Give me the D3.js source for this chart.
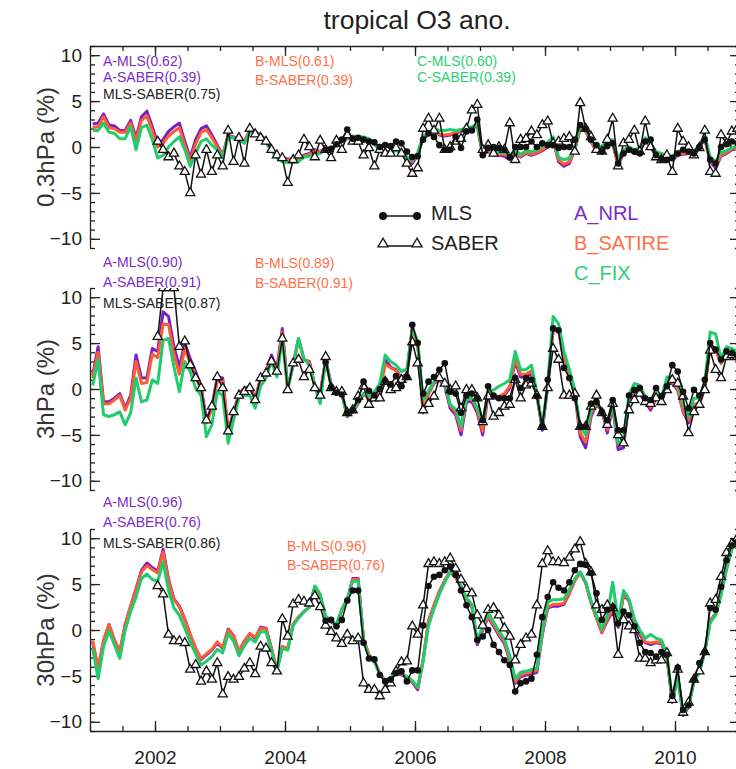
<!DOCTYPE html>
<html>
<head>
<meta charset="utf-8">
<script src="https://cdn.jsdelivr.net/npm/d3@7"></script>
<style>
  body { margin: 0; background: #fff; }
  svg { display: block; font-family: "Liberation Sans", Arial, Helvetica, sans-serif; }
</style>
</head>
<body>
<div id="chart"></div>
<script>
// monthly anomalies (%), Jan 2001 - Dec 2010
// models A/B/C cover the whole period, SABER starts Jan 2002, MLS starts Aug 2004
const saberStart = 12
const mlsStart = 43

// ---- 0.3 hPa
const p1A = [
  2.5, 2.6, 3.6, 2.4, 2.3, 1.8, 1.8, 2.9, 1.0, 3.3, 3.9, 2.2,
  0.4, 0.8, 1.7, 2.2, 2.6, 0.6, -1.2, 0.8, 2.0, 2.3, 1.3, 0.2,
  -0.9, 1.3, 1.1, 0.9, 0.6, 1.8, 1.7, 1.3, 0.8, 0.0, -0.9, -1.2,
  -1.3, -1.3, -1.2, -0.9, -0.7, -0.3, -0.5, -0.1, -0.3, 0.4, 0.6, 0.9,
  1.1, 1.0, 1.0, 0.8, 0.4, -0.4, -0.7, -0.5, -0.3, -0.7, -1.3, -1.8,
  -0.9, 1.0, 1.3, 1.9, 1.3, 1.2, 1.3, 1.5, 1.7, 1.9, 2.0, 2.3,
  -0.9, -0.5, -0.9, -0.9, -1.0, -1.4, -0.7, -1.1, -0.7, -0.9, -0.7, -0.4,
  0.0, 0.8, -1.6, -2.1, -1.8, -0.3, 2.0, 1.7, 0.6, -0.5, -0.6, 0.2,
  0.4, -2.0, -0.7, -0.3, -0.7, -0.5, 0.8, 0.0, -1.0, -1.2, -1.4, -1.4,
  -0.9, -0.8, -0.7, -0.9, -0.1, 0.9, -1.6, -2.3, -1.0, -0.7, -0.3, -0.2
]
const p1B = [
  2.1, 2.2, 3.3, 2.1, 2.0, 1.6, 1.6, 2.6, 0.7, 2.9, 3.4, 1.8,
  0.0, 0.4, 1.2, 1.7, 2.1, 0.2, -1.5, 0.3, 1.6, 1.9, 1.0, 0.0,
  -1.0, 1.3, 1.0, 0.9, 0.6, 1.7, 1.6, 1.3, 0.7, -0.1, -1.0, -1.3,
  -1.4, -1.4, -1.3, -1.0, -0.8, -0.4, -0.5, -0.2, -0.3, 0.4, 0.6, 0.9,
  1.1, 1.0, 1.0, 0.8, 0.4, -0.3, -0.6, -0.4, -0.2, -0.6, -1.2, -1.6,
  -0.8, 1.1, 1.4, 2.0, 1.4, 1.3, 1.4, 1.6, 1.8, 2.0, 2.1, 2.4,
  -0.7, -0.4, -0.8, -0.8, -0.8, -1.2, -0.6, -1.0, -0.6, -0.8, -0.6, -0.3,
  0.1, 0.8, -1.4, -1.9, -1.6, -0.2, 2.0, 1.7, 0.6, -0.4, -0.5, 0.3,
  0.4, -1.8, -0.6, -0.2, -0.6, -0.4, 0.8, 0.0, -0.9, -1.1, -1.3, -1.3,
  -0.8, -0.7, -0.6, -0.8, 0.0, 0.9, -1.5, -2.1, -0.9, -0.6, -0.2, -0.1
]
const p1C = [
  1.8, 1.8, 2.6, 1.6, 1.5, 0.9, 0.9, 2.2, -0.3, 2.1, 2.4, 0.8,
  -1.2, -0.9, 0.0, 0.6, 1.1, -0.3, -2.1, -0.7, 0.6, 0.9, 0.2, -0.3,
  -1.2, 1.1, 1.0, 0.8, 0.4, 1.6, 1.6, 1.2, 0.4, -0.4, -1.2, -1.6,
  -1.7, -1.7, -1.6, -1.1, -1.0, -0.8, -0.7, -0.2, -0.4, 0.3, 0.6, 1.0,
  1.2, 1.1, 1.1, 0.9, 0.5, -0.5, -0.8, -0.6, -0.4, -0.6, -1.1, -1.5,
  -0.6, 1.2, 1.5, 2.1, 1.8, 1.8, 1.9, 1.8, 1.9, 2.1, 2.2, 2.5,
  -0.6, -0.2, -0.6, -0.6, -0.6, -0.9, -0.4, -0.8, -0.4, -0.5, -0.3, 0.1,
  0.5, 1.1, -1.1, -1.4, -1.2, -0.1, 2.4, 2.0, 0.8, -0.2, 0.1, 0.7,
  0.8, -1.2, -0.3, 0.0, -0.3, -0.1, 1.0, 0.3, -0.5, -0.7, -0.9, -1.0,
  -0.5, -0.3, -0.3, -0.5, 0.3, 1.2, -1.1, -1.6, -0.6, -0.4, -0.1, 0.1
]
const p1MLS = [
  -0.3, -0.2, 0.3, 0.8, 1.9,
  0.9, 1.0, 0.8, 0.6, 0.5, 0.0, 0.2, 0.1, 0.6, 0.4, -0.5, -1.1,
  -1.0, 0.8, 1.5, 1.1, 0.2, -0.3, -0.3, 1.1, -0.1, 1.7, 1.8, 3.0,
  -0.9, -0.1, 0.0, -0.1, -0.3, -1.1, 0.0, 0.0, 0.0, 0.6, 0.0, 0.4,
  0.2, 0.2, -0.1, 0.0, 0.0, 0.8, 2.4, 2.0, 0.8, 0.2, -0.5, 0.1,
  0.4, -1.8, -0.7, -0.3, -0.5, -0.7, 0.6, 0.8, -0.9, -1.3, -1.4, -1.2,
  -0.7, -0.3, -0.5, -0.7, 0.0, 0.8, -1.4, -1.8, 0.0, 0.3, 0.6, 0.4
]
const p1SABER = [
  0.6, -0.3, -1.1, -0.7, -2.1, -2.7, -5.0, -0.9, -3.0, -0.3, -2.7, -0.9,
  -2.1, 1.8, -1.6, 1.0, -1.8, 2.0, 1.4, 1.0, 0.6, -0.3, -0.9, -1.2,
  -3.9, -1.4, -0.9, 0.8, 0.0, -1.1, 0.7, -0.3, -1.2, 0.7, -0.3, 1.3,
  0.6, 0.6, -0.9, -0.1, -2.1, -0.3, -0.7, -0.7, -0.1, -0.7, -1.8, -2.9,
  -2.3, 2.0, 3.1, 1.8, 3.1, -0.3, 0.0, 0.6, 0.9, 2.0, 4.0, 4.6,
  -0.3, 0.2, -0.7, 0.0, -0.3, 2.6, -1.4, 0.8, 0.9, 1.7, 1.3, 2.4,
  2.8, 0.4, 0.6, 0.9, 1.1, -0.5, 4.8, 2.0, 1.1, -0.3, -0.5, 0.8,
  3.1, -2.1, 0.4, 0.8, 1.8, -0.5, 2.8, 0.0, -1.1, -1.4, -0.9, -2.7,
  2.0, 0.6, 0.0, -0.9, -0.1, 1.8, -2.7, -2.9, 1.3, 0.4, 1.7, 2.0
]

// ---- 3 hPa
const p2A = [
  1.5, 4.6, -1.4, -1.4, -1.0, -0.5, -2.1, -0.7, 3.7, 1.2, 1.2, 4.4,
  4.1, 8.4, 7.9, 4.6, 2.4, 5.0, 3.3, 1.9, 0.3, -3.4, -1.9, 1.3,
  1.2, -4.6, -2.5, -0.5, 0.1, 0.3, -1.0, 1.2, 1.9, 3.7, 2.2, 6.6,
  0.1, 2.6, 5.5, 3.2, 3.0, 0.4, -0.5, 3.2, 0.6, -0.3, -0.5, -3.0,
  -2.5, -1.6, -0.5, -1.0, -0.5, -0.1, 3.2, 2.4, 2.1, 1.2, 1.7, 6.8,
  5.0, -2.6, -0.5, 0.6, 1.0, 0.3, -2.1, -2.8, -5.0, -1.4, -1.4, -2.6,
  -5.0, -0.5, -1.0, -1.0, -0.7, 0.1, 3.0, 1.3, 1.3, 1.7, -0.7, -4.5,
  0.3, 6.4, 6.4, 3.0, 1.5, -0.5, -5.2, -6.4, -3.0, -1.7, -2.3, -4.8,
  -1.9, -6.6, -6.4, -1.2, -0.3, -0.5, -1.4, -2.3, -1.0, -1.4, 0.6, 0.6,
  -0.1, -2.5, -3.7, -1.9, -1.7, 0.1, 4.8, 4.4, 2.8, 3.9, 3.5, 3.3
]
const p2B = [
  1.2, 4.0, -1.6, -1.6, -1.2, -0.7, -2.3, -1.0, 3.0, 0.6, 0.7, 3.8,
  3.4, 7.1, 7.0, 3.8, 1.6, 4.4, 2.8, 1.4, -0.1, -3.7, -2.2, 0.9,
  0.9, -4.7, -2.6, -0.6, 0.0, 0.2, -1.1, 1.1, 1.8, 3.4, 2.0, 6.2,
  0.0, 2.6, 5.4, 3.2, 2.9, 0.3, -0.7, 3.1, 0.5, -0.4, -0.6, -2.9,
  -2.4, -1.6, -0.6, -1.0, -0.6, -0.2, 2.7, 2.3, 2.0, 1.1, 1.5, 6.6,
  4.9, -2.4, -0.4, 0.7, 1.1, 0.5, -1.8, -2.5, -4.5, -1.1, -1.1, -2.3,
  -4.6, -0.3, -0.8, -0.8, -0.5, 0.3, 3.3, 1.6, 1.6, 2.0, -0.5, -4.3,
  0.5, 6.5, 6.5, 3.3, 1.7, -0.3, -4.8, -5.8, -2.7, -1.6, -2.2, -4.4,
  -1.7, -6.1, -6.0, -1.0, -0.2, -0.3, -1.2, -2.0, -0.8, -1.2, 0.7, 0.7,
  0.0, -2.3, -3.4, -1.7, -1.5, 0.2, 4.5, 4.2, 2.8, 3.8, 3.4, 3.2
]
const p2C = [
  0.4, 3.2, -2.8, -3.0, -2.8, -2.5, -3.9, -2.6, 1.2, -1.4, -1.2, 1.0,
  0.6, 5.3, 5.5, 2.4, -0.3, 3.0, 1.9, 0.1, -0.7, -5.2, -3.9, -0.3,
  -0.7, -5.9, -3.4, -1.0, -0.7, -0.7, -2.1, 0.3, 1.2, 3.0, 1.3, 5.5,
  -0.1, 2.8, 5.5, 3.3, 2.6, 0.3, -1.6, 3.2, 0.4, -0.4, -0.5, -2.9,
  -2.4, -1.5, -0.5, -0.8, -0.3, 0.6, 3.7, 3.0, 2.6, 1.9, 2.2, 6.4,
  5.3, -1.2, -0.2, 0.8, 1.3, 0.8, -1.7, -2.2, -4.1, -1.0, -1.0, -2.0,
  -3.7, -0.1, -0.1, 0.3, 0.6, 1.0, 4.1, 2.1, 2.1, 2.6, -0.3, -4.2,
  0.6, 7.9, 7.1, 4.1, 2.1, -0.1, -4.1, -5.0, -2.4, -1.3, -2.5, -3.9,
  -1.5, -5.9, -5.5, -0.6, 0.6, 0.4, -0.8, -1.6, -0.5, -0.9, 1.3, 1.3,
  0.6, -1.6, -3.0, -1.0, -1.0, 0.8, 6.2, 6.0, 3.3, 4.6, 4.4, 4.1
]
const p2MLS = [
  2.9, 0.2, -0.4, -0.6, -2.6,
  -2.3, -1.2, 0.8, -0.2, -0.7, 0.0, 0.9, 0.5, 1.4, 0.3, 1.3, 7.0,
  5.0, -0.5, 0.8, 1.3, 2.1, 2.8, -0.3, -0.5, -2.6, -0.7, -0.5, -1.0,
  -3.4, 0.3, -0.7, -1.0, -1.0, -1.0, 1.2, 0.1, 1.2, 1.0, -0.8, -4.1,
  1.0, 6.6, 6.4, 2.3, 1.2, -1.0, -4.1, -4.1, -1.6, -1.4, -2.5, -3.4,
  -1.2, -4.5, -4.5, -0.7, -0.1, 0.1, -1.0, -1.2, 0.1, -0.8, 0.3, 2.6,
  1.9, -0.3, -2.1, -0.1, -0.7, 1.0, 5.0, 4.3, 3.2, 4.1, 3.9, 3.6
]
const p2SABER = [
  5.7, 11.0, 11.0, 11.0, 4.6, 5.2, 2.6, 1.2, 0.1, -3.4, -1.9, 1.3,
  0.1, -4.6, -2.5, -0.7, -0.3, 0.1, -1.2, 1.2, 1.7, 3.0, 1.9, 5.5,
  -0.1, 2.8, 3.2, 1.3, 2.1, 0.1, -0.7, 3.5, 0.1, -0.3, -0.3, -2.6,
  -2.3, -0.8, 0.3, -1.7, -1.0, -1.0, 0.8, -0.1, 0.1, 1.0, 1.3, 5.1,
  2.8, -2.3, -1.6, -0.8, 1.2, 0.6, -0.1, 0.3, -2.1, -0.1, -0.1, -1.0,
  -3.6, -0.8, -3.0, -2.6, -1.9, -1.7, 1.0, -1.0, 0.4, 0.6, -0.7, -4.1,
  0.1, 4.4, 3.2, -0.7, -0.7, -0.5, -4.1, -4.1, -1.9, -0.7, -2.6, -3.9,
  -1.6, -5.0, -5.9, -2.3, -1.2, -0.5, -1.4, -1.6, -1.0, -1.4, -0.1, 1.0,
  0.6, -0.8, -4.8, -2.5, -1.7, -0.1, 4.2, 2.1, 1.2, 3.5, 3.7, 3.5
]

// ---- 30 hPa
const p3A = [
  -1.3, -4.3, -1.2, 0.6, -1.1, -2.4, 0.6, 2.6, 4.5, 6.5, 7.3, 6.8,
  6.4, 8.8, 5.5, 3.4, 2.6, 1.2, -0.5, -2.0, -3.2, -2.7, -2.2, -1.4,
  -2.0, 0.1, -0.6, -2.4, -1.2, -0.4, -0.9, 0.3, 0.2, -2.0, -4.4, -1.8,
  -2.1, 0.6, 1.4, 2.0, 2.5, 4.6, 3.7, 1.4, 0.9, 0.5, 2.2, 3.3,
  5.6, 5.6, -1.0, -2.8, -3.4, -4.8, -5.6, -5.3, -4.7, -4.9, -5.2, -5.7,
  -6.5, -3.3, 1.0, 2.7, 4.2, 5.4, 6.4, 5.8, 4.7, 3.4, 2.6, -1.6,
  0.0, 1.4, 0.4, -0.6, -1.5, -3.3, -5.8, -5.1, -4.9, -4.8, -4.6, -0.5,
  2.4, 2.6, 2.6, 2.8, 4.0, 5.4, 6.3, 5.2, 3.0, 1.3, -0.3, 1.0,
  2.0, 0.3, 3.8, 3.2, 0.8, -0.5, -1.4, -1.6, -1.4, -1.5, -2.9, -7.9,
  -5.1, -9.3, -8.4, -5.5, -4.6, -2.3, 1.0, 1.8, 4.0, 6.8, 9.0, 9.8
]
const p3B = [
  -1.2, -4.2, -1.1, 0.6, -1.1, -2.3, 0.6, 2.6, 4.4, 6.3, 7.0, 6.6,
  6.2, 8.5, 5.3, 3.3, 2.5, 1.1, -0.5, -2.0, -3.1, -2.6, -2.1, -1.3,
  -1.9, 0.0, -0.6, -2.3, -1.2, -0.4, -0.8, 0.2, 0.1, -2.0, -4.3, -1.8,
  -2.0, 0.6, 1.4, 2.0, 2.5, 4.6, 3.7, 1.5, 1.0, 0.6, 2.2, 3.3,
  5.5, 5.5, -1.0, -2.7, -3.3, -4.7, -5.5, -5.2, -4.6, -4.8, -5.1, -5.6,
  -6.3, -3.2, 1.0, 2.7, 4.2, 5.4, 6.3, 5.7, 4.6, 3.4, 2.6, -1.4,
  0.2, 1.5, 0.6, -0.4, -1.3, -3.1, -5.6, -4.9, -4.7, -4.6, -4.4, -0.4,
  2.5, 2.8, 2.8, 2.9, 4.1, 5.4, 6.2, 5.1, 3.0, 1.3, -0.2, 1.2,
  2.3, 0.5, 3.9, 3.3, 1.0, -0.2, -1.3, -1.4, -1.3, -1.4, -2.8, -7.7,
  -5.0, -9.1, -8.2, -5.4, -4.5, -2.3, 1.0, 1.7, 3.9, 6.6, 8.8, 9.6
]
const p3C = [
  -2.0, -5.3, -1.8, -0.1, -1.6, -3.1, 0.0, 2.0, 3.6, 5.6, 6.1, 5.5,
  5.3, 7.4, 4.3, 2.4, 1.6, 0.2, -1.3, -2.6, -3.8, -3.4, -2.9, -2.1,
  -2.5, -0.4, -1.2, -2.8, -1.7, -0.9, -1.3, -0.2, -0.2, -2.3, -4.5, -2.0,
  -2.2, 0.5, 1.3, 2.0, 2.5, 4.8, 3.9, 1.5, 1.0, 0.6, 2.3, 3.4,
  5.3, 5.3, -1.1, -2.9, -3.4, -4.8, -5.5, -5.2, -4.5, -4.7, -5.1, -5.5,
  -6.2, -3.4, 0.5, 2.3, 3.9, 5.2, 6.3, 5.9, 4.8, 3.5, 2.8, -1.2,
  0.5, 1.9, 0.9, -0.1, -1.0, -2.8, -5.3, -4.6, -4.5, -4.3, -4.2, -0.2,
  3.0, 3.3, 3.3, 3.4, 4.4, 5.6, 6.3, 5.2, 3.2, 1.6, 0.1, 1.6,
  5.2, 1.0, 4.3, 3.4, 1.2, 0.0, -0.9, -0.5, -0.9, -1.1, -2.6, -7.6,
  -5.2, -9.2, -8.3, -5.6, -4.6, -2.4, 0.8, 1.6, 3.8, 6.6, 8.8, 9.6
]
const p3MLS = [
  1.0, 1.1, 0.4, 1.1, 3.2,
  4.3, 4.3, -1.4, -3.1, -3.2, -4.9, -5.6, -5.4, -4.7, -4.5, -5.6, -4.4,
  -4.4, 0.5, 4.8, 5.8, 6.0, 6.5, 6.9, 6.0, 4.3, 2.7, 1.4, -1.1,
  -0.7, 0.0, -1.6, -2.4, -3.3, -3.8, -6.7, -5.8, -5.6, -5.3, -2.7, 1.4,
  3.6, 5.2, 4.6, 4.3, 5.2, 6.5, 7.2, 7.1, 6.2, 4.0, 1.1, 2.2,
  2.5, 0.7, 2.0, 1.6, 0.4, -1.4, -2.4, -2.5, -2.9, -2.4, -2.7, -7.2,
  -4.1, -8.7, -8.2, -5.4, -3.6, -2.4, 2.4, 2.2, 4.7, 7.6, 9.2, 9.6
]
const p3SABER = [
  4.8, 3.9, -0.5, -1.2, -1.2, -1.4, -4.3, -3.8, -5.6, -4.5, -5.4, -3.6,
  -7.0, -5.1, -5.4, -5.1, -4.2, -3.6, -4.8, -1.8, -2.0, -3.6, -4.5, 1.2,
  -0.7, 2.8, 3.3, 3.1, 2.9, 3.7, 2.5, 0.5, -0.2, -0.9, -1.5, -0.5,
  -1.2, -0.9, -5.8, -6.5, -6.5, -7.2, -6.5, -5.8, -4.5, -3.5, -3.4, 0.4,
  -0.5, 2.7, 7.2, 7.4, 7.2, 7.4, 7.8, 6.7, 5.5, 4.5, 4.0, 1.6,
  0.5, 2.2, 2.4, 1.6, 0.2, -0.7, -3.3, -1.6, -0.9, -0.5, 2.7, 7.2,
  8.6, 7.4, 7.4, 7.3, 7.9, 8.8, 9.6, 7.2, 6.3, 2.7, 2.2, 2.7,
  2.4, -2.7, 1.1, 0.4, 0.0, -3.1, -3.1, -3.6, -3.3, -3.3, -2.5, -7.6,
  -4.3, -9.0, -7.9, -5.4, -4.5, -2.4, 2.9, 3.3, 5.8, 8.4, 9.4, 10.0
]

const panelTitles = ['0.3hPa (%)', '3hPa (%)', '30hPa (%)']
const corrP1 = ['A-MLS(0.62)', 'A-SABER(0.39)', 'MLS-SABER(0.75)', 'B-MLS(0.61)', 'B-SABER(0.39)', 'C-MLS(0.60)', 'C-SABER(0.39)']
const corrP2 = ['A-MLS(0.90)', 'A-SABER(0.91)', 'MLS-SABER(0.87)', 'B-MLS(0.89)', 'B-SABER(0.91)']
const corrP3 = ['A-MLS(0.96)', 'A-SABER(0.76)', 'MLS-SABER(0.86)', 'B-MLS(0.96)', 'B-SABER(0.76)']
const yearTicks = [2002, 2004, 2006, 2008, 2010]
const modelNames = ['A_NRL', 'B_SATIRE', 'C_FIX']

const colors = { A: '#7a1fc2', B: '#ff5c33', C: '#1fcc6b', black: '#111' }
const textColors = { A: '#7b2bc4', B: '#ff7048', C: '#2ad072', black: '#222' }

// Dimensions
const width = 736
const height = 769
const left = 90, right = 740
const panelH = 202
const panelTops = [46, 288, 529]

const svg = d3.select('#chart')
  .append('svg')
  .attr('width', width)
  .attr('height', height)

const x = d3.scaleLinear().domain([2001, 2011]).range([left, right])
const monthT = i => 2001 + (i + 0.5) / 12

svg.append('text')
  .attr('x', 417).attr('y', 29)
  .attr('text-anchor', 'middle')
  .attr('font-size', 26.5)
  .attr('fill', '#222')
  .text('tropical O3 ano.')

const panels = [
  { A: p1A, B: p1B, C: p1C, mls: p1MLS, saber: p1SABER, labels: corrP1,
    pos: [[103, 66, 'A'], [103, 82, 'A'], [103, 99, 'black'], [255, 66, 'B'], [255, 85, 'B'], [417, 66, 'C'], [417, 82, 'C']] },
  { A: p2A, B: p2B, C: p2C, mls: p2MLS, saber: p2SABER, labels: corrP2,
    pos: [[103, 267, 'A'], [103, 287, 'A'], [103, 308, 'black'], [255, 268, 'B'], [255, 288, 'B']] },
  { A: p3A, B: p3B, C: p3C, mls: p3MLS, saber: p3SABER, labels: corrP3,
    pos: [[103, 507, 'A'], [103, 527, 'A'], [103, 548, 'black'], [287, 551, 'B'], [287, 570, 'B']] },
]

panels.forEach((p, k) => {
  const top = panelTops[k]
  const y = d3.scaleLinear().domain([-11, 11]).range([top + panelH, top])
  const g = svg.append('g')

  // clip
  g.append('clipPath').attr('id', 'clip' + k)
    .append('rect').attr('x', left).attr('y', top).attr('width', right - left).attr('height', panelH)

  // y axes
  const yAxis = g.append('g')
    .attr('transform', `translate(${left},0)`)
    .call(d3.axisLeft(y).tickValues([-10, -5, 0, 5, 10]).tickSizeInner(-10).tickSizeOuter(0).tickPadding(8))
  g.append('g')
    .attr('transform', `translate(${left},0)`)
    .call(d3.axisLeft(y).tickValues(d3.range(-11, 12)).tickSizeInner(-5).tickSizeOuter(0).tickFormat(''))
    .call(s => s.select('.domain').remove())
  g.append('g')
    .attr('transform', `translate(${right},0)`)
    .call(d3.axisRight(y).tickValues([-10, -5, 0, 5, 10]).tickSizeInner(-10).tickSizeOuter(0).tickFormat(''))
  g.append('g')
    .attr('transform', `translate(${right},0)`)
    .call(d3.axisRight(y).tickValues(d3.range(-11, 12)).tickSizeInner(-5).tickSizeOuter(0).tickFormat(''))
    .call(s => s.select('.domain').remove())
  yAxis.selectAll('text').attr('font-size', 19).attr('fill', '#222')

  g.append('text')
    .attr('transform', `translate(46,${y(0)}) rotate(-90)`)
    .attr('text-anchor', 'middle')
    .attr('dy', '0.35em')
    .attr('font-size', 24)
    .attr('fill', '#333')
    .text(panelTitles[k])

  // correlation labels
  p.labels.forEach((t, j) => {
    const [tx, ty, c] = p.pos[j]
    g.append('text').attr('x', tx).attr('y', ty)
      .attr('font-size', 14).attr('fill', textColors[c]).text(t)
  })

  const plot = g.append('g').attr('clip-path', `url(#clip${k})`)
  const line = d3.line().x(d => x(d.t)).y(d => y(d.v))
  const toPts = (vals, start) => vals.map((v, i) => ({ t: monthT(start + i), v }))

  ;['A', 'B', 'C'].forEach(key => {
    plot.append('path')
      .datum(toPts(p[key], 0))
      .attr('d', line)
      .attr('fill', 'none')
      .attr('stroke', colors[key])
      .attr('stroke-width', 3)
      .attr('stroke-linejoin', 'round')
  })

  const saber = toPts(p.saber, saberStart)
  plot.append('path').datum(saber).attr('d', line)
    .attr('fill', 'none').attr('stroke', colors.black).attr('stroke-width', 1.5)
  plot.selectAll('.tri').data(saber).join('path')
    .attr('d', d3.symbol(d3.symbolTriangle, 36))
    .attr('transform', d => `translate(${x(d.t)},${y(d.v)})`)
    .attr('fill', '#fff').attr('stroke', colors.black).attr('stroke-width', 1.3)

  const mls = toPts(p.mls, mlsStart)
  plot.append('path').datum(mls).attr('d', line)
    .attr('fill', 'none').attr('stroke', colors.black).attr('stroke-width', 1.5)
  plot.selectAll('.dot').data(mls).join('circle')
    .attr('cx', d => x(d.t)).attr('cy', d => y(d.v)).attr('r', 3.3)
    .attr('fill', colors.black)
})

// x axes: top of first panel, bottom of last panel
const majorX = yearTicks
const minorX = d3.range(2001, 2011.01, 0.5)
svg.append('g').attr('transform', `translate(0,${panelTops[0]})`)
  .call(d3.axisTop(x).tickValues(majorX).tickSizeInner(-10).tickSizeOuter(0).tickFormat(''))
svg.append('g').attr('transform', `translate(0,${panelTops[0]})`)
  .call(d3.axisTop(x).tickValues(minorX).tickSizeInner(-5).tickSizeOuter(0).tickFormat(''))
  .call(s => s.select('.domain').remove())
const bottom = svg.append('g').attr('transform', `translate(0,${panelTops[2] + panelH})`)
  .call(d3.axisBottom(x).tickValues(majorX).tickSizeInner(-10).tickSizeOuter(0).tickPadding(20).tickFormat(d3.format('d')))
bottom.selectAll('text').attr('font-size', 19).attr('fill', '#222')
svg.append('g').attr('transform', `translate(0,${panelTops[2] + panelH})`)
  .call(d3.axisBottom(x).tickValues(minorX).tickSizeInner(-5).tickSizeOuter(0).tickFormat(''))
  .call(s => s.select('.domain').remove())

svg.selectAll('.domain, .tick line').attr('stroke', '#222').attr('stroke-width', 1.3)

// legend
const leg = svg.append('g')
leg.append('line').attr('x1', 383).attr('x2', 417).attr('y1', 216).attr('y2', 216)
  .attr('stroke', colors.black).attr('stroke-width', 1.5)
leg.selectAll('.ld').data([383, 417]).join('circle')
  .attr('cx', d => d).attr('cy', 216).attr('r', 4).attr('fill', colors.black)
leg.append('line').attr('x1', 383).attr('x2', 417).attr('y1', 246).attr('y2', 246)
  .attr('stroke', colors.black).attr('stroke-width', 1.5)
leg.selectAll('.lt').data([383, 417]).join('path')
  .attr('d', d3.symbol(d3.symbolTriangle, 44))
  .attr('transform', d => `translate(${d},244)`)
  .attr('fill', '#fff').attr('stroke', colors.black).attr('stroke-width', 1.3)
leg.append('text').attr('x', 431).attr('y', 220).attr('font-size', 20).attr('fill', '#222').text('MLS')
leg.append('text').attr('x', 431).attr('y', 250).attr('font-size', 20).attr('fill', '#222').text('SABER')
;['A', 'B', 'C'].forEach((key, j) => {
  leg.append('text').attr('x', 574).attr('y', 220 + 30 * j)
    .attr('font-size', 20).attr('fill', textColors[key]).text(modelNames[j])
})
</script>
</body>
</html>
